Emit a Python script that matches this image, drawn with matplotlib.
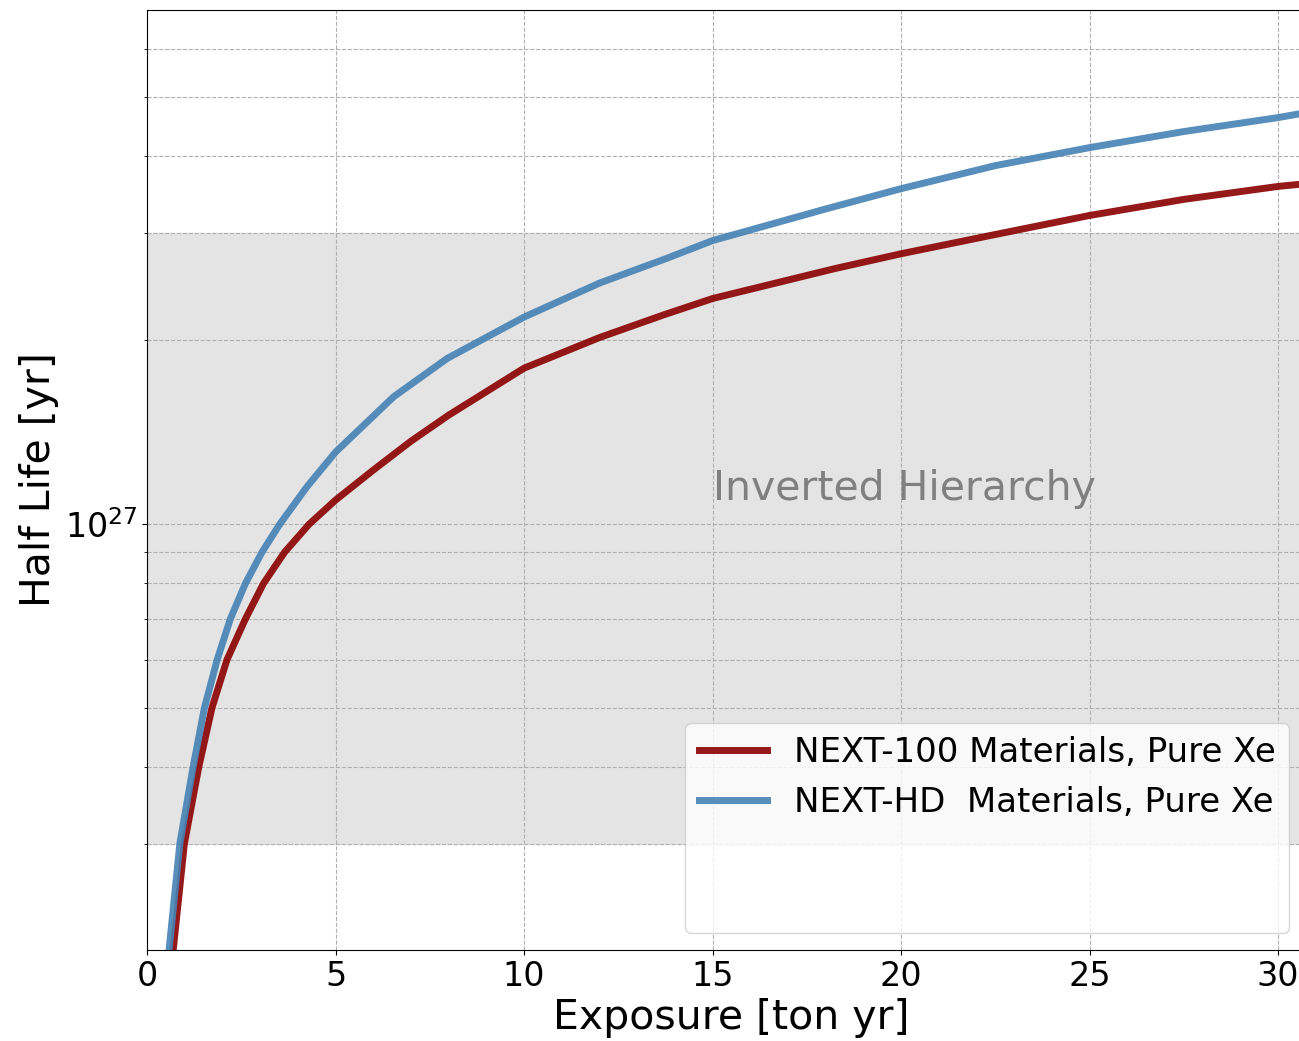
import numpy as np
import matplotlib.pyplot as plt
from matplotlib.lines import Line2D

# exposure [ton yr] vs half-life sensitivity [yr]
exp_100 = [0.69, 0.99, 1.37, 1.72, 2.12, 2.61, 3.09, 3.65, 4.3, 5.0, 6.0, 7.0, 8.0,
           10.0, 12.0, 13.7, 15.0, 18.25, 20.0, 22.4, 25.0, 27.5, 30.0, 30.6]
hl_100 = [2.0e26, 3.0e26, 4.0e26, 5.0e26, 6.0e26, 7.0e26, 8.0e26, 9.0e26, 1.0e27,
          1.095e27, 1.226e27, 1.367e27, 1.508e27, 1.80e27, 2.02e27, 2.20e27, 2.34e27,
          2.62e27, 2.77e27, 2.97e27, 3.20e27, 3.40e27, 3.57e27, 3.60e27]

exp_hd = [0.58, 0.87, 1.22, 1.52, 1.86, 2.21, 2.61, 3.05, 3.52, 4.24, 5.0, 6.54, 7.96,
          10.0, 12.0, 13.78, 15.0, 17.96, 20.0, 22.5, 25.0, 27.5, 30.0, 30.6]
hl_hd = [2.0e26, 3.0e26, 4.0e26, 5.0e26, 6.0e26, 7.0e26, 8.0e26, 9.0e26, 1.0e27,
         1.151e27, 1.312e27, 1.616e27, 1.867e27, 2.182e27, 2.48e27, 2.722e27, 2.911e27,
         3.274e27, 3.54e27, 3.861e27, 4.132e27, 4.39e27, 4.627e27, 4.697e27]

# inverted hierarchy band
ih_low, ih_high = 3e26, 3e27

fig = plt.figure(figsize=(12.99, 10.41), dpi=100)
ax = fig.add_axes([0.1132, 0.0874, 0.8997, 0.9030])

ax.axhspan(ih_low, ih_high, color='#e4e4e4', zorder=0)
ax.text(15, 1.097e27, 'Inverted Hierarchy', fontsize=29.5, color='gray', va='baseline')

ax.plot(exp_100, hl_100, color='darkred', alpha=0.9, lw=5, label='NEXT-100 Materials, Pure Xe')
ax.plot(exp_hd, hl_hd, color='steelblue', alpha=0.9, lw=5, label='NEXT-HD  Materials, Pure Xe')

ax.set_yscale('log')
ax.set_xlim(0, 31)
ax.set_ylim(2.01e26, 6.94e27)
ax.set_xticks([0, 5, 10, 15, 20, 25, 30])
ax.tick_params(labelsize=24)
ax.grid(True, which='major', ls='--', color='#b0b0b0')
ax.grid(True, which='minor', axis='y', ls='--', color='#b0b0b0')

ax.set_xlabel('Exposure [ton yr]', fontsize=29.5, labelpad=4)
ax.set_ylabel('Half Life [yr]', fontsize=29.5)

handles, labels = ax.get_legend_handles_labels()
blank = Line2D([], [], alpha=0)
ax.legend(handles + [blank, blank], labels + [' ', ' '], loc='lower right', fontsize=24.5,
          bbox_to_anchor=(0.992, 0.0))

plt.savefig('out.png', dpi=100)
